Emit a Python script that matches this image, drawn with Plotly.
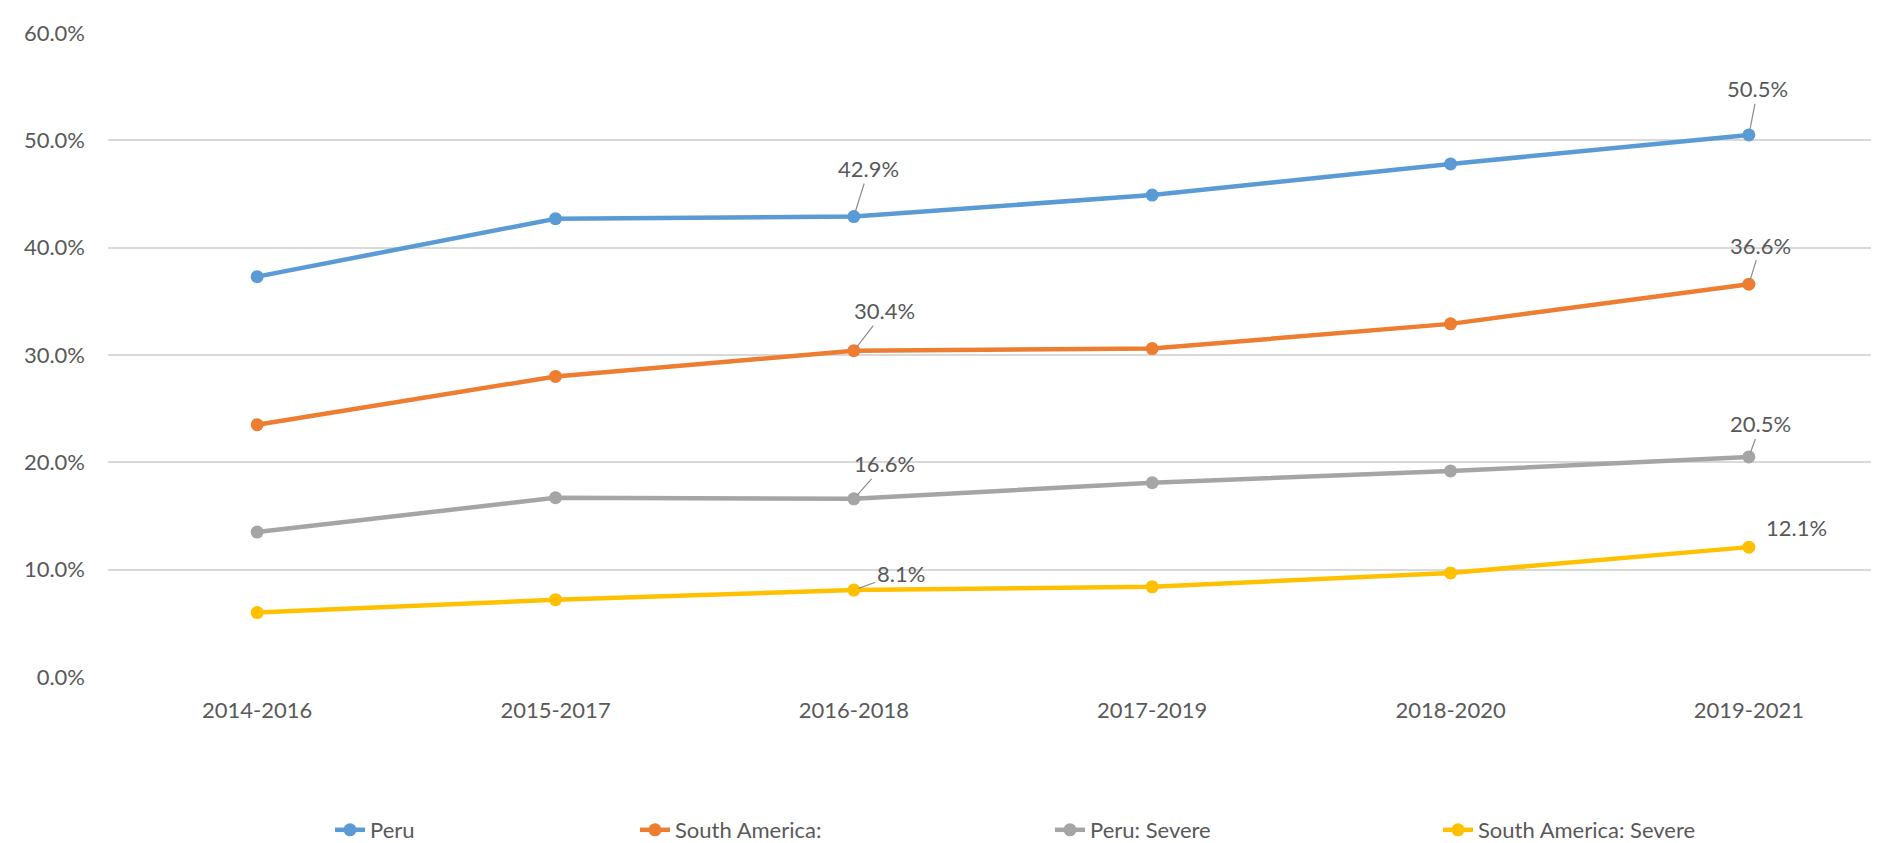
import plotly.graph_objects as go

categories = ["2014-2016", "2015-2017", "2016-2018", "2017-2019", "2018-2020", "2019-2021"]
peru = [37.3, 42.7, 42.9, 44.9, 47.8, 50.5]
south_america = [23.5, 28.0, 30.4, 30.6, 32.9, 36.6]
peru_severe = [13.5, 16.7, 16.6, 18.1, 19.2, 20.5]
sa_severe = [6.0, 7.2, 8.1, 8.4, 9.7, 12.1]
series_names = ["Peru", "South America:", "Peru: Severe", "South America: Severe"]
y_ticks = [0, 10, 20, 30, 40, 50, 60]
labelled_idx = [2, 5]

colors = ["#5B9BD5", "#ED7D31", "#A5A5A5", "#FFC000"]
series = [peru, south_america, peru_severe, sa_severe]

W, H = 1879, 843
ML, MR, MT, MB = 100, 0, 25, 166
FONT = "Lato"
TXT = "#595959"
FS = 22

fig = go.Figure()
legend_x_px = [322, 627, 1042, 1430]
legend_names = ["legend", "legend2", "legend3", "legend4"]
for name, vals, col, lg in zip(series_names, series, colors, legend_names):
    fig.add_trace(go.Scatter(
        x=categories, y=vals, name=name, mode="lines+markers",
        line=dict(color=col, width=4.5),
        marker=dict(color=col, size=13),
        legend=lg,
    ))

# data label offsets (pixels) per series: (dx, dy) for idx 2 and idx 5
offsets = [
    [(15, -48), (9, -46)],
    [(31, -40), (12, -39)],
    [(31, -35), (12, -33)],
    [(47, -17), (48, -20)],
]
arrows = [[True, True], [True, True], [True, True], [True, False]]
for s, vals in enumerate(series):
    for k, i in enumerate(labelled_idx):
        dx, dy = offsets[s][k]
        txt = f"{vals[i]:.1f}%"
        if arrows[s][k]:
            fig.add_annotation(x=categories[i], y=vals[i], text=txt,
                               showarrow=True, arrowhead=0, arrowwidth=1.2,
                               arrowcolor="#8C8C8C", ax=dx, ay=dy, standoff=5,
                               font=dict(family=FONT, size=FS, color=TXT))
        else:
            fig.add_annotation(x=categories[i], y=vals[i], text=txt,
                               showarrow=False, xshift=dx, yshift=-dy,
                               font=dict(family=FONT, size=FS, color=TXT))

plot_w = W - ML - MR
layout_legends = {}
for lg, px in zip(legend_names, legend_x_px):
    layout_legends[lg] = dict(
        x=(px - ML) / plot_w, xanchor="left",
        y=(H - MB - 832) / (H - MT - MB), yanchor="middle",
        orientation="h", bgcolor="rgba(0,0,0,0)",
        font=dict(family=FONT, size=FS, color=TXT),
    )

fig.update_layout(
    width=W, height=H,
    margin=dict(l=ML, r=MR, t=MT, b=MB, pad=0),
    paper_bgcolor="white", plot_bgcolor="white",
    font=dict(family=FONT, size=FS, color=TXT),
    showlegend=True,
    **layout_legends,
)
fig.update_xaxes(
    type="category", range=[-0.5, 5.463],
    showgrid=False, showline=False, zeroline=False,
    ticks="", ticklabelstandoff=18,
    tickfont=dict(family=FONT, size=FS, color=TXT),
)
fig.update_yaxes(
    range=[0, 60], tickvals=y_ticks, ticktext=[f"{v:.1f}%" for v in y_ticks],
    showgrid=True, gridcolor="#D9D9D9", gridwidth=2,
    zeroline=False, showline=False, ticks="", ticklabelstandoff=22,
    tickfont=dict(family=FONT, size=FS, color=TXT),
)

fig.write_html("out.html")
